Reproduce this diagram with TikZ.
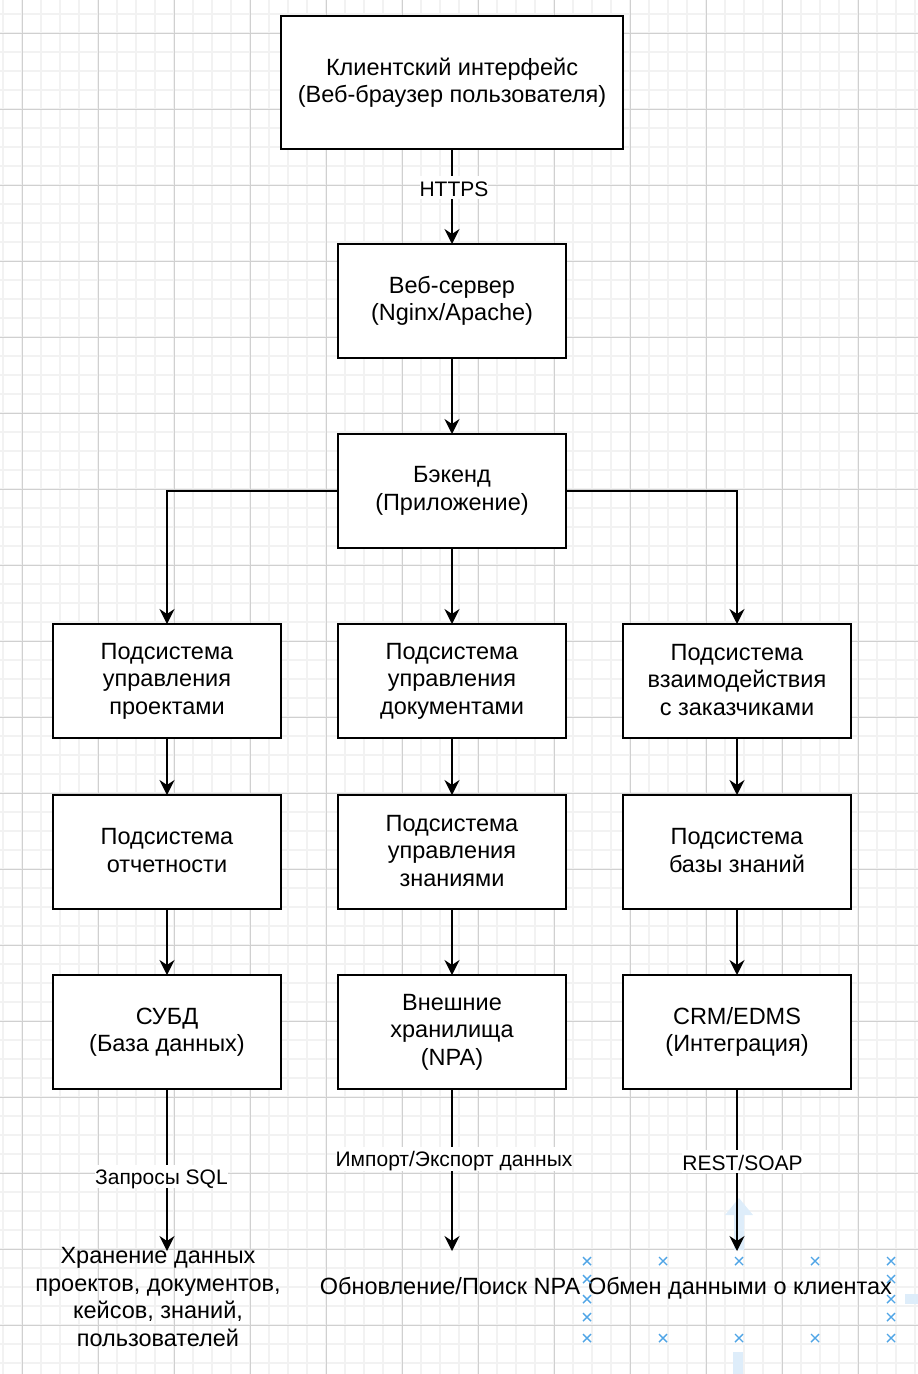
\documentclass[tikz,border=0pt]{standalone}
\usepackage{fontspec}
\setmainfont{Liberation Sans}
\usetikzlibrary{arrows.meta,calc,positioning}
\newdimen\hdim
\newdimen\wdim
\newdimen\odim
\hdim=114pt
\wdim=228pt
\odim=57pt
\newcommand{\boxfont}{\fontsize{23.5}{27.5}\selectfont}
\newcommand{\tagfont}{\fontsize{21}{23}\selectfont}
\newcommand{\boxstrut}{\rule[-2.75pt]{0pt}{27.5pt}}
\newcommand{\freestrut}{\rule[-4.75pt]{0pt}{27.5pt}}
\newcommand{\tagstrut}{\rule[-3.4pt]{0pt}{23pt}}
\definecolor{gridminor}{RGB}{242,242,242}
\definecolor{gridmajor}{RGB}{208,208,208}
\definecolor{selblue}{RGB}{80,165,230}
\definecolor{hoverblue}{RGB}{222,237,250}
\tikzstyle{element}=[
  draw=black,
  font=\boxfont,
  inner sep=0pt,
  minimum height=\hdim,
  minimum width=\wdim,
  outer sep=0pt,
  rectangle,
  align=center,
  line width=2pt,
  fill=white,
  execute at begin node=\boxstrut,
  execute at end node=\boxstrut,
]
\tikzstyle{plaintext}=[
  font=\boxfont,
  inner sep=0pt,
  align=center,
  execute at begin node=\freestrut,
  execute at end node=\freestrut,
]
\tikzstyle{arrow}=[
  draw=black,
  line width=1.8pt,
]
\tikzstyle{arrowlabel}=[
  font=\tagfont,
  fill=white,
  inner sep=0pt,
  execute at begin node=\tagstrut,
]
\tikzstyle{minorline}=[gridminor, line width=1.2pt]
\tikzstyle{majorline}=[gridmajor, line width=1pt]
\tikzstyle{selmark}=[selblue, line width=1.4pt]
\tikzset{
  x=1pt, y=-1pt,
  node distance=\odim,
  >={Stealth[length=15pt,width=15pt,inset=5pt]},
}

\begin{document}
\begin{tikzpicture}
      \useasboundingbox (0,0) rectangle (918,1374);
      %% background grid
      \foreach \g in {3,22,...,918} \draw [minorline] (\g,0) -- (\g,1374);
      \foreach \g in {14,33,...,1374} \draw [minorline] (0,\g) -- (918,\g);
      \foreach \g in {22,98,...,918} \draw [majorline] (\g,0) -- (\g,1374);
      \foreach \g in {33,109,...,1374} \draw [majorline] (0,\g) -- (918,\g);
      %%
      \node (client) [element, minimum width=342pt, minimum height=133pt] at (452,82.5)
        {Клиентский интерфейс\\(Веб-браузер пользователя)};
      \node (webserver) [element, below=95pt of client] {Веб-сервер\\(Nginx/Apache)};
      \node (backend) [element, below=76pt of webserver] {Бэкенд\\(Приложение)};
      %%
      \node (docs) [element, below=76pt of backend] {Подсистема\\управления\\документами};
      \node (projects) [element, left=of docs] {Подсистема\\управления\\проектами};
      \node (customers) [element, right=of docs] {Подсистема\\взаимодействия\\с заказчиками};
      %%
      \node (knowledge) [element, below=57pt of docs] {Подсистема\\управления\\знаниями};
      \node (reports) [element, left=of knowledge] {Подсистема\\отчетности};
      \node (kbase) [element, right=of knowledge] {Подсистема\\базы знаний};
      %%
      \node (storages) [element, below=66pt of knowledge] {Внешние\\хранилища\\(NPA)};
      \node (dbms) [element, left=of storages] {СУБД\\(База данных)};
      \node (crm) [element, right=of storages] {CRM/EDMS\\(Интеграция)};
      %%
      \coordinate (D) at ($(dbms.south)+(0,162)$);
      \coordinate (S) at ($(storages.south)+(0,162)$);
      \coordinate (C) at ($(crm.south)+(0,162)$);
      \node (keep) [plaintext] at (158,1299.5)
        {Хранение данных\\проектов, документов,\\кейсов, знаний,\\пользователей};
      \node (npasearch) [plaintext] at (450,1285.5) {Обновление/Поиск NPA};
      %%
      \fill [hoverblue] (739,1198) -- (753,1215) -- (744,1215) -- (744,1250)
        -- (734,1250) -- (734,1215) -- (725,1215) -- cycle;
      \fill [hoverblue] (905,1294) rectangle (918,1304);
      \fill [hoverblue] (733,1352) rectangle (743,1374);
      %%
      \draw [->, arrow] (client) -- node [arrowlabel, pos=0.41, xshift=2pt] {HTTPS} (webserver);
      \draw [->, arrow] (webserver) -- (backend);
      \draw [->, arrow] (backend.west) -| (projects);
      \draw [->, arrow] (backend) -- (docs);
      \draw [->, arrow] (backend.east) -| (customers);
      \draw [->, arrow] (projects) -- (reports);
      \draw [->, arrow] (docs) -- (knowledge);
      \draw [->, arrow] (customers) -- (kbase);
      \draw [->, arrow] (reports) -- (dbms);
      \draw [->, arrow] (knowledge) -- (storages);
      \draw [->, arrow] (kbase) -- (crm);
      \draw [->, arrow] (dbms) -- node [arrowlabel, pos=0.54, xshift=-5.5pt] {Запросы SQL} (D);
      \draw [->, arrow] (storages) -- node [arrowlabel, pos=0.43, xshift=2pt] {Импорт/Экспорт данных} (S);
      \draw [->, arrow] (crm) -- node [arrowlabel, pos=0.45, xshift=5.5pt] {REST/SOAP} (C);
      %%
      \node (exchange) [plaintext] at (740,1285.5) {Обмен данными о клиентах};
      %% selection marks
      \foreach \mx/\my in {587/1261,663/1261,739/1261,815/1261,891/1261,
        587/1279,587/1299,587/1317,891/1279,891/1299,891/1317,
        587/1338,663/1338,739/1338,815/1338,891/1338}
        \draw [selmark] (\mx-4,\my-4) -- (\mx+4,\my+4) (\mx-4,\my+4) -- (\mx+4,\my-4);
    \end{tikzpicture}
\end{document}
